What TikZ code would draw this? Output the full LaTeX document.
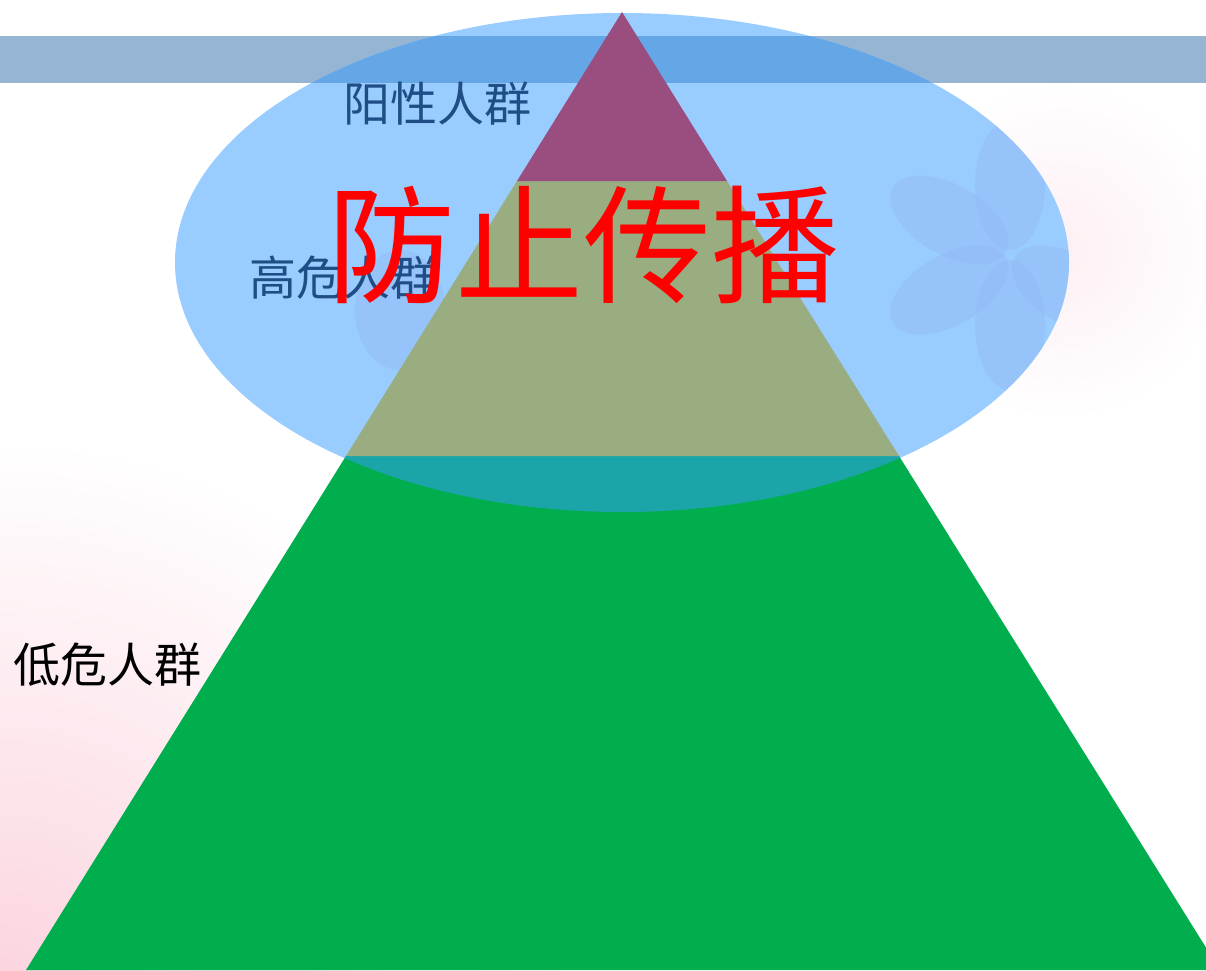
\documentclass[tikz,border=0pt]{standalone}
\usepackage{fontspec}
\newfontfamily\cjk{Noto Sans CJK SC}
\definecolor{bandc}{HTML}{95B5D3}
\definecolor{ellc}{HTML}{99CCFF}
\definecolor{overc}{HTML}{64A6E6}
\definecolor{greenc}{HTML}{00AE4E}
\definecolor{tealc}{HTML}{1BA5A8}
\definecolor{olivec}{HTML}{99AD80}
\definecolor{purplec}{HTML}{9A4E80}
\definecolor{pinkbg}{HTML}{FBD3DE}
\definecolor{labblue}{HTML}{1F4E86}
\definecolor{ghost}{HTML}{92BAF4}
\tikzset{
  lab/.style={font=\cjk\fontsize{47}{47}\selectfont, inner sep=0pt},
  big/.style={font=\cjk\fontsize{128}{128}\selectfont, inner sep=0pt, text=red},
  petal/.style={fill=ghost, opacity=0.45},
}
\begin{document}
\begin{tikzpicture}[x=1pt,y=-1pt]
\useasboundingbox (0,0) rectangle (1206,970);
\fill[white] (0,0) rectangle (1206,970);
\begin{scope}
\clip (0,0) rectangle (1206,970);
% faint background
\shade[inner color=pinkbg, outer color=white] (0,1000) circle (560);
\shade[inner color=pinkbg!35, outer color=white] (1060,250) circle (170);
% band
\fill[bandc] (0,36) rectangle (1206,83);
% ellipse
\fill[ellc] (622,262.5) ellipse (447 and 249.5);
\begin{scope}
\clip (622,262.5) ellipse (447 and 249.5);
\fill[overc] (0,36) rectangle (1206,83);
\foreach \a in {90,150,210,270,330} {
  \fill[petal, rotate around={\a:(1010,255)}] (1010+70,255) ellipse (65 and 35);
}
\fill[petal] (400,310) ellipse (45 and 60);
\end{scope}
% pyramid
\coordinate (apex) at (622,12);
\coordinate (pl) at (517,181);
\coordinate (pr) at (727,181);
\coordinate (ol) at (346,456);
\coordinate (or) at (899,456);
\coordinate (gl) at (26,970);
\coordinate (gr) at (1220,970);
\fill[greenc] (ol) -- (or) -- (gr) -- (gl) -- cycle;
\begin{scope}
\clip (622,262.5) ellipse (447 and 249.5);
\fill[tealc] (ol) -- (or) -- (gr) -- (gl) -- cycle;
\end{scope}
\fill[olivec] (pl) -- (pr) -- (or) -- (ol) -- cycle;
\fill[purplec] (apex) -- (pr) -- (pl) -- cycle;
\end{scope}
% labels
\node[lab, text=labblue] (pos) at (437,104) {阳性人群};
\node[lab, text=labblue] (high) at (343,278) {高危人群};
\node[lab, text=black] (low) at (107,665) {低危人群};
\node[big] (stop) at (583,245) {防止传播};
\end{tikzpicture}
\end{document}
